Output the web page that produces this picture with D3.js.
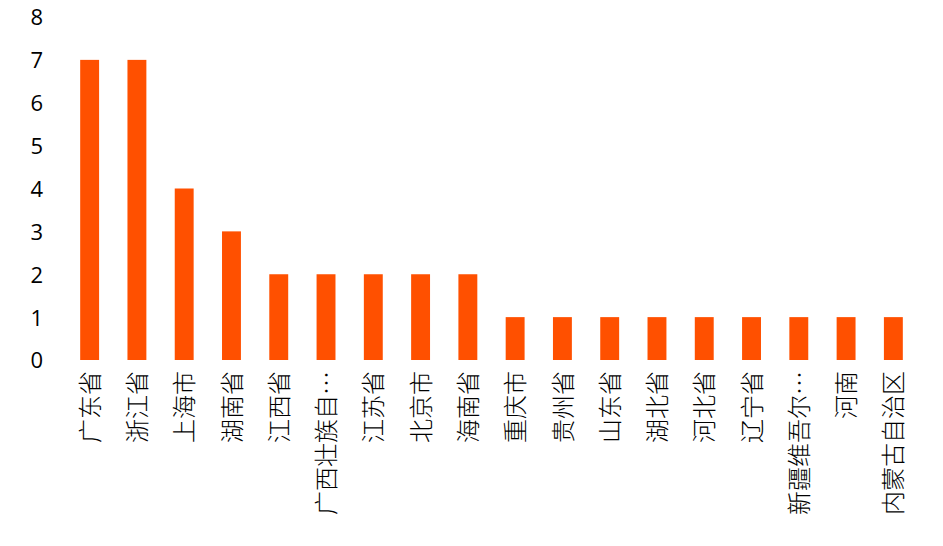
<!DOCTYPE html>
<html>
<head>
<meta charset="utf-8">
<script src="https://cdn.jsdelivr.net/npm/d3@7"></script>
<style>
    body { margin: 0; background: #fff; }
</style>
</head>
<body>
<script>
// 类目
const categories = ['广东省', '浙江省', '上海市', '湖南省', '江西省', '广西壮族自…', '江苏省', '北京市', '海南省',
    '重庆市', '贵州省', '山东省', '湖北省', '河北省', '辽宁省', '新疆维吾尔…', '河南', '内蒙古自治区'];
// 数值
const values = [7, 7, 4, 3, 2, 2, 2, 2, 2, 1, 1, 1, 1, 1, 1, 1, 1, 1];
// 纵轴刻度
const yTicks = [0, 1, 2, 3, 4, 5, 6, 7, 8];

const width = 943;
const height = 546;
const padding = {top: 17, right: 26, bottom: 186, left: 66};

const svg = d3.select('body')
    .append('svg')
    .attr('width', width)
    .attr('height', height);

const x = d3.scaleBand()
    .domain(categories)
    .range([padding.left, width - padding.right])
    .paddingInner(0.6)
    .paddingOuter(0.3);

const y = d3.scaleLinear()
    .domain([0, 8])
    .range([height - padding.bottom, padding.top]);

// 纵轴
const yAxis = svg.append('g')
    .attr('transform', `translate(${padding.left - 23},0)`)
    .call(d3.axisLeft(y).tickValues(yTicks).tickSize(0).tickPadding(0));
yAxis.select('.domain').remove();
yAxis.selectAll('text')
    .attr('font-family', '"Open Sans", sans-serif')
    .attr('font-size', '22px')
    .attr('fill', '#000')
    .attr('dy', '0.36em');

// 柱子
svg.selectAll('rect.bar')
    .data(values)
    .enter()
    .append('rect')
    .attr('class', 'bar')
    .attr('fill', '#ff5000')
    .attr('x', (d, i) => x(categories[i]))
    .attr('y', d => y(d))
    .attr('width', x.bandwidth())
    .attr('height', d => y(0) - y(d));

// 横轴
const xAxis = svg.append('g')
    .attr('transform', `translate(0,${y(0)})`)
    .call(d3.axisBottom(x).tickSize(0).tickPadding(0));
xAxis.select('.domain').remove();
xAxis.selectAll('text')
    .attr('font-family', '"Noto Sans CJK SC", sans-serif')
    .attr('font-weight', 300)
    .attr('font-size', '24px')
    .attr('fill', '#000')
    .attr('text-anchor', 'end')
    .attr('transform', 'rotate(-90)')
    .attr('x', -11)
    .attr('y', 0)
    .attr('dy', '0.38em');
</script>
</body>
</html>
